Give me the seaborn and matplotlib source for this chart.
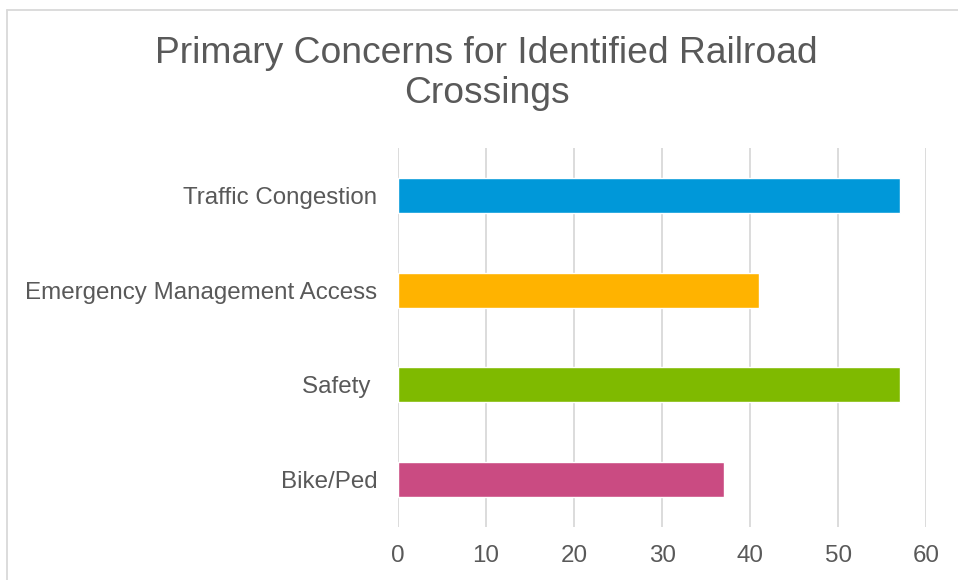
import pandas as pd
import matplotlib.pyplot as plt
import matplotlib.lines as mlines
import seaborn as sns

# values
categories = ['Traffic Congestion', 'Emergency Management Access', 'Safety ', 'Bike/Ped']
counts = [57, 41, 57, 37]
colors = ['#0098D9', '#FFB300', '#7FBA00', '#CA4B82']

TEXT = '#595959'
GRID = '#D9D9D9'

sns.set_theme(style='white')
plt.rcParams['font.family'] = ['Liberation Sans', 'DejaVu Sans']

df = pd.DataFrame({'concern': categories, 'count': counts})

fig = plt.figure(figsize=(9.58, 5.8), dpi=100)
ax = fig.add_axes([0.4155, 0.0914, 0.5511, 0.6534])

sns.barplot(data=df, x='count', y='concern', hue='concern', palette=colors,
            order=categories, hue_order=categories, width=0.37,
            legend=False, ax=ax, saturation=1)

ax.set_xlim(0, 60)
ax.set_ylim(3.5, -0.5)
ax.set_xticks(range(0, 61, 10))
ax.xaxis.grid(True, color=GRID, linewidth=1.3)
ax.set_axisbelow(True)
for s in ax.spines.values():
    s.set_visible(False)
ax.set_xlabel('')
ax.set_ylabel('')
ax.tick_params(axis='y', length=0, pad=15, labelsize=17.4, labelcolor=TEXT)
ax.tick_params(axis='x', length=0, pad=13, labelsize=17.4, labelcolor=TEXT)

fig.text(0.508, 0.873, 'Primary Concerns for Identified Railroad\nCrossings',
         ha='center', va='center', fontsize=26.8, color=TEXT, linespacing=1.2)

# chart frame (cropped screenshot: only top and left edges visible)
fig.add_artist(mlines.Line2D([0.0073, 1.0], [0.983, 0.983], color=GRID, linewidth=1.3))
fig.add_artist(mlines.Line2D([0.0073, 0.0073], [0.0, 0.983], color=GRID, linewidth=1.3))

fig.savefig('out.png', dpi=100)
